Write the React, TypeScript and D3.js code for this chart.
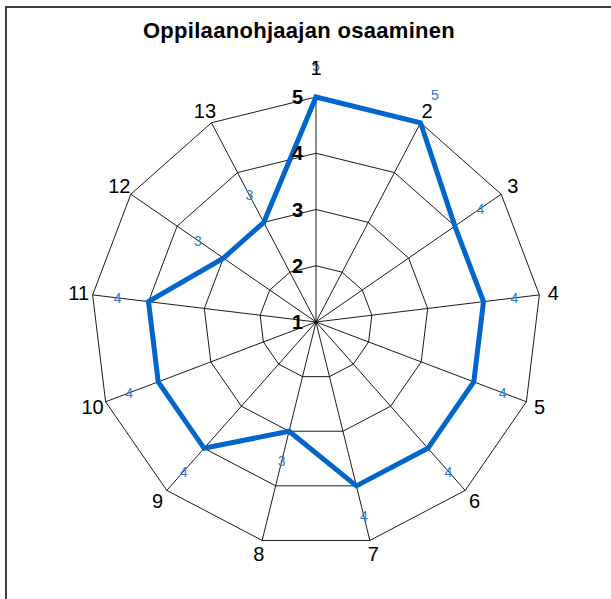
import React from "react";
import * as d3 from "d3";

const title = "Oppilaanohjaajan osaaminen";
const categories = ["1", "2", "3", "4", "5", "6", "7", "8", "9", "10", "11", "12", "13"];
const values = [5, 5, 4, 4, 4, 4, 4, 3, 4, 4, 4, 3, 3];
const levels = [1, 2, 3, 4, 5];

const W = 611;
const H = 599;
const cx = 316;
const cy = 322;
const R = 225;

export default function App() {
  const r = d3.scaleLinear().domain([1, 5]).range([0, R]);
  const n = categories.length;
  const ang = d3.scaleLinear().domain([0, n]).range([0, 2 * Math.PI]);
  const pt = (i: number, rad: number): [number, number] => {
    const a = ang(i);
    return [cx + rad * Math.sin(a), cy - rad * Math.cos(a)];
  };
  const lineGen = d3.line<[number, number]>().curve(d3.curveLinearClosed);

  const gridPolys = levels
    .filter((l) => l > 1)
    .map((l) => lineGen(categories.map((_, i) => pt(i, r(l)))) as string);
  const seriesPath = lineGen(values.map((v, i) => pt(i, r(v)))) as string;

  return (
    <svg
      width={W}
      height={H}
      style={{ position: "absolute", left: 0, top: 0, background: "#fff" }}
      fontFamily="'Liberation Sans', Arial, sans-serif"
    >
      <rect x={6} y={7} width={W + 20} height={H + 20} fill="#fff" stroke="#2a2a2a" strokeWidth={1.8} />
      <text x={299} y={38} textAnchor="middle" fontSize={22} fontWeight="bold" letterSpacing={0.3} fill="#000">
        {title}
      </text>
      {gridPolys.map((d, k) => (
        <path key={k} d={d} fill="none" stroke="#000" strokeWidth={0.9} />
      ))}
      {categories.map((_, i) => {
        const [x, y] = pt(i, R);
        return <line key={i} x1={cx} y1={cy} x2={x} y2={y} stroke="#000" strokeWidth={0.9} />;
      })}
      <path d={seriesPath} fill="none" stroke="#0066cc" strokeWidth={5} strokeLinejoin="miter" />
      {levels.map((l) => (
        <text
          key={l}
          x={303}
          y={cy - r(l)}
          dy="0.36em"
          textAnchor="end"
          fontSize={20}
          fontWeight="bold"
          fill="#000"
        >
          {l}
        </text>
      ))}
      {values.map((v, i) => {
        const [x, y] = pt(i, r(v) + 31);
        return (
          <text key={i} x={x} y={y} dy="0.36em" textAnchor="middle" fontSize={14} fill="#2a7bd6">
            {v}
          </text>
        );
      })}
      {categories.map((c, i) => {
        const [x, y] = pt(i, i === 0 ? 254 : 239);
        return (
          <text key={c} x={x} y={y} dy="0.36em" textAnchor="middle" fontSize={20} fill="#000">
            {c}
          </text>
        );
      })}
    </svg>
  );
}
